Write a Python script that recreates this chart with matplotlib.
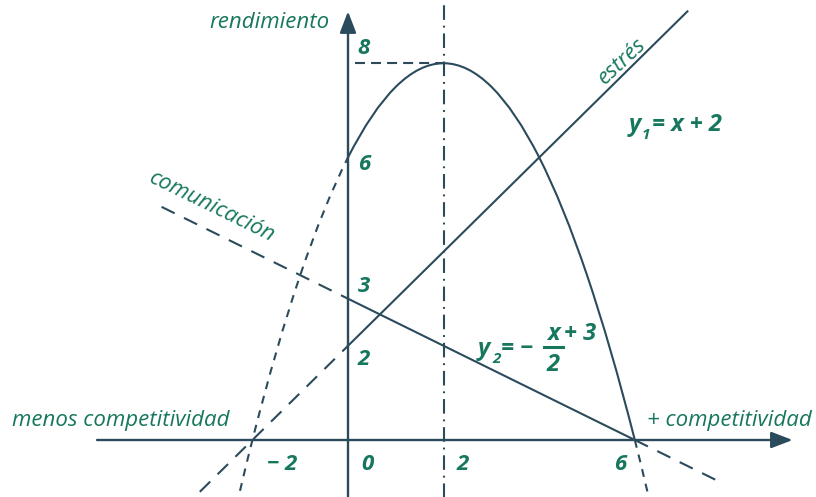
import matplotlib
matplotlib.use("Agg")
import matplotlib.pyplot as plt
from matplotlib.path import Path
from matplotlib.patches import PathPatch

LINE = "#2b4b5c"
TEXT = "#17775e"

# curve "rendimiento" (x, y), every half unit
curve_x = [-3.0, -2.5, -2.0, -1.5, -1.0, -0.5, 0.0, 0.5, 1.0, 1.5, 2.0, 2.5,
           3.0, 3.5, 4.0, 4.5, 5.0, 5.5, 6.0, 6.5, 7.0]
curve_y = [-4.5, -2.125, 0.0, 1.875, 3.5, 4.875, 6.0, 6.875, 7.5, 7.875, 8.0,
           7.875, 7.5, 6.875, 6.0, 4.875, 3.5, 1.875, 0.0, -2.125, -4.5]

# line y1 = x + 2 ("estres")
y1_x = [-3.1, 0.0, 7.1]
y1_y = [-1.1, 2.0, 9.1]

# line y2 ("comunicacion")
y2_x = [-3.9, 0.0, 6.0, 7.8]
y2_y = [4.95, 3.0, 0.0, -0.9]

vertex = (2, 8)
x_ticks = [-2, 0, 2, 6]
x_tick_labels = ["\u2212 2", "0", "2", "6"]
y_ticks = [8, 6, 3, 2]

plt.rcParams["font.family"] = ["Open Sans", "DejaVu Sans"]

fig = plt.figure(figsize=(8.16, 4.97), dpi=100)
ax = fig.add_axes([0, 0, 1, 1])
ax.set_xlim(-7.28, 9.79)
ax.set_ylim(-1.21, 9.342)
ax.axis("off")

lw = 1.5
dash = (0, (7, 5))
short_dash = (0, (3.8, 3.4))


def smooth(xs, ys, **kw):
    # quadratic bezier pieces through triplets of read points
    verts = [(xs[0], ys[0])]
    codes = [Path.MOVETO]
    for k in range(0, len(xs) - 2, 2):
        cx = 2 * xs[k + 1] - (xs[k] + xs[k + 2]) / 2
        cy = 2 * ys[k + 1] - (ys[k] + ys[k + 2]) / 2
        verts += [(cx, cy), (xs[k + 2], ys[k + 2])]
        codes += [Path.CURVE3, Path.CURVE3]
    ax.add_patch(PathPatch(Path(verts, codes), fill=False, edgecolor=LINE, **kw))


# axes with arrows
ax.annotate("", xy=(9.3, 0), xytext=(-5.25, 0),
            arrowprops=dict(arrowstyle="-|>,head_length=1.3,head_width=0.5",
                            color=LINE, lw=lw + 0.2, shrinkA=0, shrinkB=0))
ax.annotate("", xy=(0, 9.1), xytext=(0, -1.3),
            arrowprops=dict(arrowstyle="-|>,head_length=1.3,head_width=0.5",
                            color=LINE, lw=lw + 0.2, shrinkA=0, shrinkB=0))

# vertex guides
ax.plot([0.15, vertex[0]], [vertex[1], vertex[1]], color=LINE, lw=lw,
        linestyle=(0, (4.8, 2.9)))
ax.plot([vertex[0], vertex[0]], [-1.3, 9.4], color=LINE, lw=lw,
        linestyle=(0, (7, 2.8, 0.9, 2.8)))

# parabola: dashed outside [0, 6], solid inside
i0 = curve_x.index(0.0)
i6 = curve_x.index(6.0)
smooth(curve_x[:i0 + 1], curve_y[:i0 + 1], lw=lw, linestyle=short_dash)
smooth(curve_x[i0:i6 + 1], curve_y[i0:i6 + 1], lw=lw)
smooth(curve_x[i6:], curve_y[i6:], lw=lw, linestyle=short_dash)

# y1
ax.plot(y1_x[:2], y1_y[:2], color=LINE, lw=lw, linestyle=dash)
ax.plot(y1_x[1:], y1_y[1:], color=LINE, lw=lw)

# y2
ax.plot(y2_x[:2], y2_y[:2], color=LINE, lw=lw, linestyle=dash)
ax.plot(y2_x[1:3], y2_y[1:3], color=LINE, lw=lw)
ax.plot(y2_x[2:], y2_y[2:], color=LINE, lw=lw, linestyle=dash)

# tick numbers
num = dict(color=TEXT, fontsize=16, fontweight="bold", fontstyle="italic")
y_off = {8: 0.32, 6: -0.16, 3: 0.25, 2: -0.3}
for v in y_ticks:
    ax.text(0.2, v + y_off[v], str(v), ha="left", va="center", **num)
x_off = {-2: 0.62, 0: 0.4, 2: 0.4, 6: -0.3}
for v, s in zip(x_ticks, x_tick_labels):
    ax.text(v + x_off[v], -0.53, s, ha="center", va="center", **num)

lab = dict(color=TEXT, fontsize=16, fontstyle="italic")
ax.text(-0.38, 8.87, "rendimiento", ha="right", va="center", **lab)
ax.text(-7.03, 0.42, "menos competitividad", ha="left", va="center", **lab)
ax.text(9.71, 0.42, "+ competitividad", ha="right", va="center", **lab)
ax.text(5.73, 8.03, "estrés", ha="center", va="center", rotation=43,
        rotation_mode="anchor", **lab)
ax.text(-2.85, 4.95, "comunicación", ha="center", va="center", rotation=-26,
        rotation_mode="anchor", **lab)

# equation labels
eq = dict(color=TEXT, fontsize=17, fontweight="bold", fontstyle="italic")
sub = dict(color=TEXT, fontsize=11, fontweight="bold", fontstyle="italic")
ax.text(5.86, 6.69, "y", ha="left", va="center", **eq)
ax.text(6.15, 6.48, "1", ha="left", va="center", **sub)
ax.text(6.35, 6.69, "= x + 2", ha="left", va="center", **eq)

ax.text(2.72, 1.93, "y", ha="left", va="center", **eq)
ax.text(3.01, 1.72, "2", ha="left", va="center", **sub)
ax.text(3.2, 1.93, "= \u2212", ha="left", va="center", **eq)
ax.text(4.3, 2.25, "x", ha="center", va="center", **eq)
ax.plot([4.1, 4.5], [1.98, 1.98], color=TEXT, lw=2.2)
ax.text(4.3, 1.6, "2", ha="center", va="center", **eq)
ax.text(4.52, 2.25, "+ 3", ha="left", va="center", **eq)

fig.savefig("out.png", dpi=100)
